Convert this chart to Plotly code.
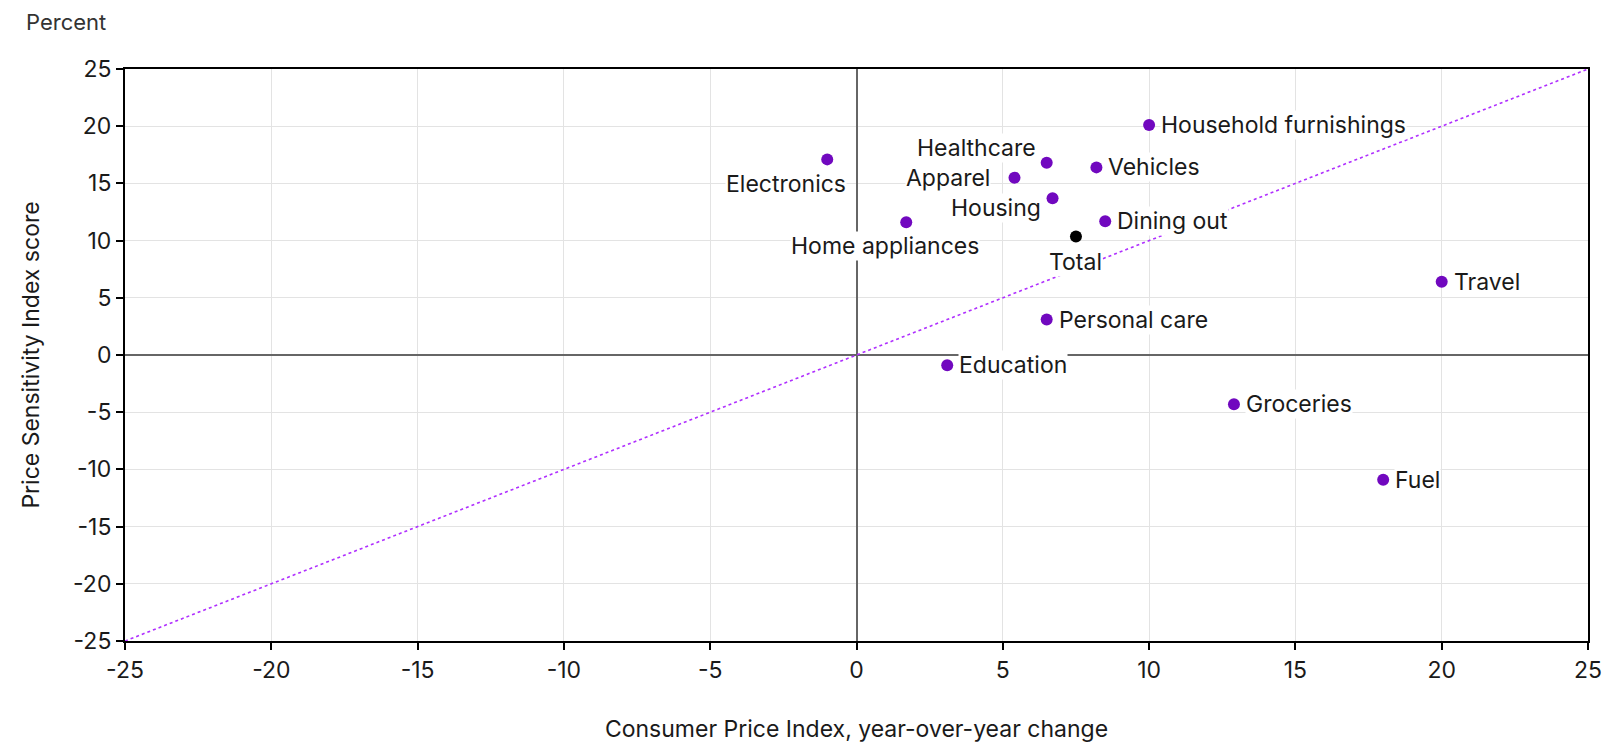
import plotly.graph_objects as go

categories = ["Electronics", "Healthcare", "Apparel", "Housing", "Home appliances",
              "Vehicles", "Household furnishings", "Dining out", "Personal care",
              "Education", "Groceries", "Fuel", "Travel"]
cpi_change = [-1.0, 6.5, 5.4, 6.7, 1.7, 8.2, 10.0, 8.5, 6.5, 3.1, 12.9, 18.0, 20.0]
psi_score = [17.1, 16.8, 15.5, 13.7, 11.6, 16.4, 20.1, 11.7, 3.1, -0.9, -4.3, -10.9, 6.4]

total_label = "Total"
total_cpi = 7.5
total_psi = 10.35

diag_x = [-25, 25]
diag_y = [-25, 25]

tick_vals = [-25, -20, -15, -10, -5, 0, 5, 10, 15, 20, 25]
tick_text = ["-25", "-20", "-15", "-10", "-5", "0", "5", "10", "15", "20", "25"]

PURPLE = "#7108BF"
LINE_PURPLE = "#B030FF"
FONT = "Inter"
TXT = "#1a1a1a"
FS = 23

fig = go.Figure()
fig.add_trace(go.Scatter(x=diag_x, y=diag_y, mode="lines",
                         line=dict(color=LINE_PURPLE, width=1.6, dash="dot"),
                         hoverinfo="skip", showlegend=False))
fig.add_trace(go.Scatter(x=cpi_change, y=psi_score, mode="markers", text=categories,
                         marker=dict(color=PURPLE, size=12), showlegend=False))
fig.add_trace(go.Scatter(x=[total_cpi], y=[total_psi], mode="markers", text=[total_label],
                         marker=dict(color="#000000", size=12), showlegend=False))

# label placement: (xanchor, xshift, yshift)
placement = {
    "Electronics": ("right", 20, -25),
    "Healthcare": ("right", -10, 15),
    "Apparel": ("right", -24, 0),
    "Housing": ("right", -11, -10),
    "Home appliances": ("center", -21, -24),
}
labels = list(zip(categories, cpi_change, psi_score)) + [(total_label, total_cpi, total_psi)]
for name, xv, yv in labels:
    if name == total_label:
        xa, xs, ys = ("center", 0, -25)
    else:
        xa, xs, ys = placement.get(name, ("left", 11, 0))
    fig.add_annotation(x=xv, y=yv, xref="x", yref="y", text=name, showarrow=False,
                       xanchor=xa, yanchor="middle", xshift=xs, yshift=ys,
                       bgcolor="white", borderpad=0,
                       font=dict(family=FONT, size=FS, color=TXT))

fig.add_annotation(x=-100 / 1463, y=1 + 61 / 572, xref="paper", yref="paper",
                   text="Percent", showarrow=False, xanchor="left", yanchor="top",
                   borderpad=0,
                   font=dict(family=FONT, size=22, color="#333333"))

axis_common = dict(range=[-25, 25], tickvals=tick_vals, ticktext=tick_text,
                   showgrid=True, automargin=False,
                   gridcolor="#e3e3e3", gridwidth=1, zeroline=True,
                   zerolinecolor="#666666", zerolinewidth=1.5,
                   showline=True, linecolor="#000000", linewidth=2, mirror=True,
                   ticks="outside", ticklen=7, tickcolor="#000000", tickwidth=1.5,
                   tickfont=dict(family=FONT, size=FS, color=TXT))

fig.update_xaxes(**axis_common,
                 title=dict(text="Consumer Price Index, year-over-year change",
                            font=dict(family=FONT, size=FS, color=TXT), standoff=38))
fig.update_yaxes(**axis_common,
                 title=dict(text="Price Sensitivity Index score",
                            font=dict(family=FONT, size=FS, color=TXT), standoff=27))

# the page body adds an 8px offset; margins compensate so the plot area lands in place
fig.update_layout(width=1624, height=746,
                  margin=dict(l=117, r=44, t=61, b=113),
                  plot_bgcolor="white", paper_bgcolor="white",
                  font=dict(family=FONT, color=TXT))

fig.write_html("out.html")
